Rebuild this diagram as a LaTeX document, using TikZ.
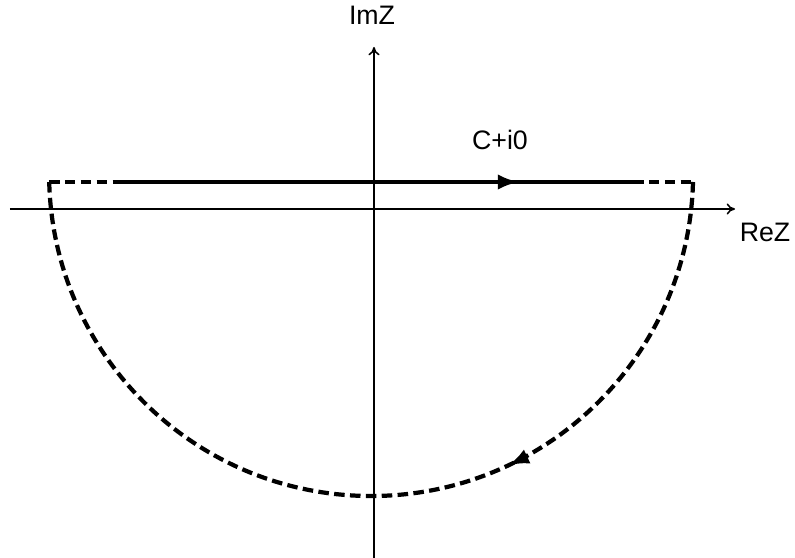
\documentclass[tikz,border=0pt]{standalone}
\usepackage{fontspec}
\setmainfont{Liberation Sans}
\usetikzlibrary{arrows.meta,decorations.markings}

\begin{document}
\begin{tikzpicture}[x=0.025cm, y=0.025cm, font=\fontsize{19}{22}\selectfont,
  axis/.style={line width=1.1pt, -{To[length=6pt,width=8pt]}},
  contour/.style={line width=3pt},
  dashpart/.style={contour, dash pattern=on 7.5pt off 3.8pt},
  midtip/.style={decoration={markings, mark=at position #1 with {\arrow[solid]{Latex[length=15pt,width=11pt]}}},
    postaction={decorate}}]
\useasboundingbox (-374,209) rectangle (421,-349);
% axes
\coordinate (xs) at (-364,0);
\coordinate (xe) at (361,0);
\coordinate (ys) at (0,-349);
\coordinate (ye) at (0,162);
\draw[axis] (xs) -- (xe);
\draw[axis] (ys) -- (ye);
\node (imz) at (-2,194) {ImZ};
\node (rez) at (391,-23) {ReZ};
% contour above the real axis
\coordinate (L) at (-325,27);
\coordinate (La) at (-257,27);
\coordinate (Rb) at (259,27);
\coordinate (R) at (319,27);
\draw[dashpart] (L) -- (La);
\draw[contour, midtip=0.779] (La) -- (Rb);
\draw[dashpart] (Rb) -- (R);
\node (lab) at (126,69) {C+i0};
% closing arc in the lower half plane
\draw[dashpart, midtip=0.358]
  (R) arc[start angle=-1.42, end angle=-178.58, radius=322];
\end{tikzpicture}
\end{document}
